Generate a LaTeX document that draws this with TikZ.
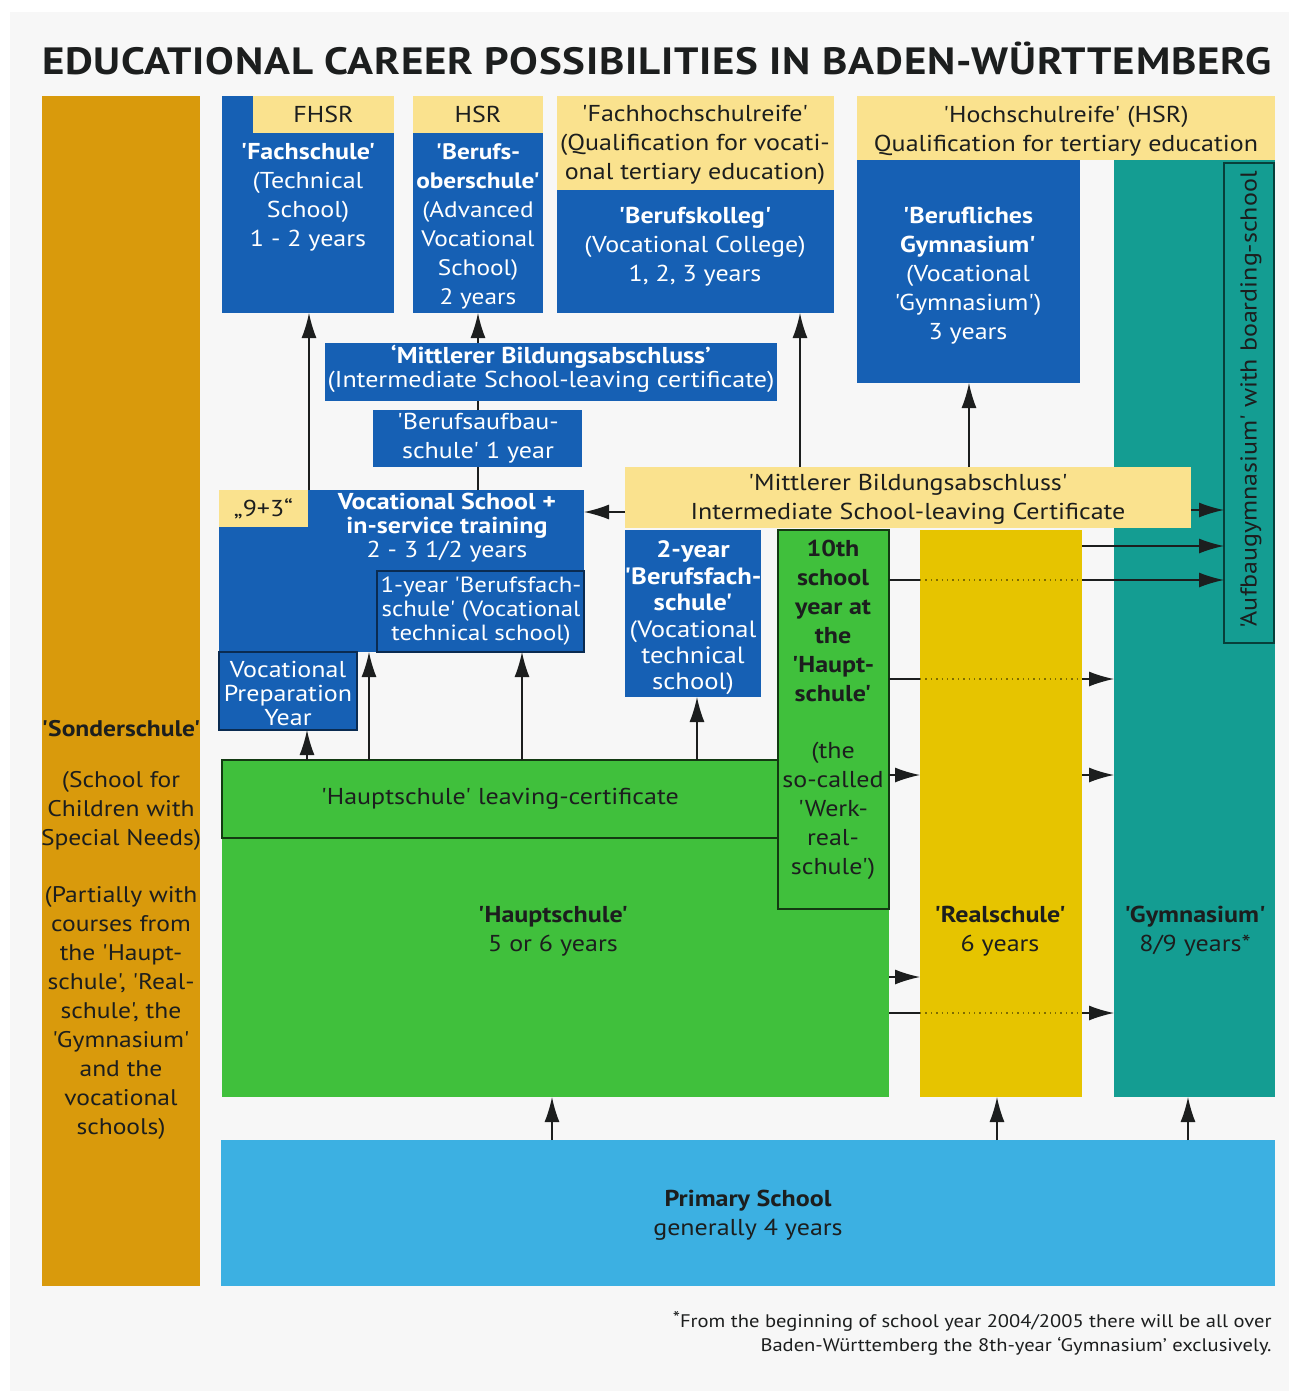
\documentclass[tikz,border=0pt]{standalone}
\usepackage{fontspec}
\setmainfont{PT Sans}[Ligatures=TeXOff, FakeStretch=1.13]
\usetikzlibrary{arrows.meta,backgrounds,positioning,fit}

\definecolor{panel}{RGB}{247,247,247}
\definecolor{sonder}{RGB}{217,154,12}
\definecolor{vblue}{RGB}{22,96,180}
\definecolor{pale}{RGB}{250,226,142}
\definecolor{hgreen}{RGB}{64,192,60}
\definecolor{rgold}{RGB}{230,196,0}
\definecolor{gteal}{RGB}{20,157,146}
\definecolor{pblue}{RGB}{60,176,226}
\definecolor{ink}{RGB}{28,30,30}

\tikzset{
  box/.style={inner sep=0pt, outer sep=0pt},
  bluebox/.style={box, fill=vblue},
  palebox/.style={box, fill=pale},
  wtxt/.style={text=white, align=center, inner sep=0pt, font=\fontsize{11.5}{14.5}\selectfont},
  ktxt/.style={text=ink, align=center, inner sep=0pt, font=\fontsize{11.5}{14.5}\selectfont},
  tight/.style={font=\fontsize{11.5}{12}\selectfont},
  arr/.style={draw=ink, line width=0.7pt, -{Latex[length=12.5pt,width=7.5pt]}},
  link/.style={draw=ink, line width=0.7pt},
  dots/.style={draw=rgold!55!black, line width=0.7pt, dotted},
}

\begin{document}
\begin{tikzpicture}[x=0.5pt,y=-0.5pt]
\useasboundingbox (0,0) rectangle (1291,1394);
\fill[white] (0,0) rectangle (1291,1394);
\fill[panel] (10,12) rectangle (1289,1391);

\node[text=ink, font=\fontsize{19}{22}\selectfont\bfseries\addfontfeature{LetterSpace=2}] (title) at (657,58)
  {EDUCATIONAL CAREER POSSIBILITIES IN BADEN-WÜRTTEMBERG};

% left column
\node[box, fill=sonder, fit={(42,96) (200,1286)}] (sonder) {};
\node[ktxt, font=\fontsize{11.3}{14.5}\selectfont] (sonder-t) at (121,930) {\textbf{'Sonderschule'}\\[11pt]
  (School for\\Children with\\Special Needs)\\[14pt]
  (Partially with\\courses from\\the 'Haupt-\\schule', 'Real-\\schule', the\\'Gymnasium'\\and the\\vocational\\schools)};

% top row
\node[bluebox, fit={(222,96) (394,313)}] (fs) {};
\node[palebox, fit={(253,96) (394,133)}] (fhsr) {};
\node[ktxt] at (fhsr) {FHSR};
\node[wtxt] (fs-t) at (308,197) {\textbf{'Fachschule'}\\(Technical\\School)\\1 - 2 years};

\node[bluebox, fit={(413,133) (543,313)}] (bos) {};
\node[palebox, fit={(413,96) (543,133)}] (hsr) {};
\node[ktxt] at (hsr) {HSR};
\node[wtxt, font=\fontsize{11.2}{14.5}\selectfont] (bos-t) at (478,226) {\textbf{'Berufs-}\\\textbf{oberschule'}\\(Advanced\\Vocational\\School)\\2 years};

\node[palebox, fit={(557,96) (834,190)}] (fhr) {};
\node[ktxt] (fhr-t) at (695,145) {'Fachhochschulreife'\\(Qualification for vocati-\\onal tertiary education)};
\node[bluebox, fit={(557,190) (834,313)}] (bk) {};
\node[wtxt] (bk-t) at (695,247) {\textbf{'Berufskolleg'}\\(Vocational College)\\1, 2, 3 years};

% Gymnasium column and HSR
\node[box, fill=gteal, fit={(1114,160) (1275,1097)}] (gym) {};
\node[ktxt] (gym-t) at (1195,931) {\textbf{'Gymnasium'}\\8/9 years*};
\node[palebox, fit={(857,96) (1275,160)}] (hsrb) {};
\node[ktxt] (hsrb-t) at (1066,131) {'Hochschulreife' (HSR)\\Qualification for tertiary education};
\node[bluebox, fit={(857,160) (1080,383)}] (bg) {};
\node[wtxt] (bg-t) at (968,276) {\textbf{'Berufliches}\\\textbf{Gymnasium'}\\(Vocational\\'Gymnasium')\\3 years};
\node[box, draw=gteal!40!black, line width=0.6pt, fit={(1224,163) (1274,643)}] (aufbau) {};
\node[ktxt, rotate=90] (aufbau-t) at (1251,400) {'Aufbaugymnasium' with boarding-school};

% middle
\node[bluebox, fit={(325,343) (777,401)}] (mbb) {};
\node[wtxt, tight] (mbb-t) at (551,369) {\textbf{‘Mittlerer Bildungsabschluss’}\\(Intermediate School-leaving certificate)};
\node[bluebox, fit={(373,410) (582,467)}] (bau) {};
\node[wtxt] (bau-t) at (478,438) {'Berufsaufbau-\\schule' 1 year};

\node[bluebox, fit={(219,490) (584,652)}] (voc) {};
\node[palebox, fit={(219,490) (308,527)}] (nine) {};
\node[ktxt] at (nine) {„9+3“};
\node[wtxt, tight] (voc-t) at (447,528) {\textbf{Vocational School +}\\\textbf{in-service training}\\2 - 3 1/2 years};
\node[bluebox, draw=vblue!45!black, line width=0.6pt, fit={(377,571) (584,652)}] (oneyr) {};
\node[wtxt, font=\fontsize{11}{12}\selectfont] (oneyr-t) at (481,611) {1-year 'Berufsfach-\\schule' (Vocational\\technical school)};
\node[bluebox, draw=vblue!45!black, line width=0.6pt, fit={(219,652) (357,730)}] (vprep) {};
\node[wtxt, tight] (vprep-t) at (288,693) {Vocational\\Preparation\\Year};

\node[bluebox, fit={(625,530) (761,697)}] (twoyr) {};
\node[wtxt, font=\fontsize{11.8}{13.2}\selectfont] (twoyr-t) at (693,618) {\textbf{2-year}\\\textbf{'Berufsfach-}\\\textbf{schule'}\\(Vocational\\technical\\school)};

% lower schools
\node[box, fill=hgreen, fit={(222,760) (889,1097)}] (haupt) {};
\node[ktxt] (haupt-t) at (553,931) {\textbf{'Hauptschule'}\\5 or 6 years};
\node[box, draw=hgreen!30!black, line width=0.6pt, fit={(222,760) (778,838)}] (hlc) {};
\node[ktxt] (hlc-t) at (500,799) {'Hauptschule' leaving-certificate};
\node[box, fill=hgreen, draw=hgreen!30!black, line width=0.6pt, fit={(778,530) (889,909)}] (tenth) {};
\node[ktxt] (tenth-t) at (833,710) {\textbf{10th}\\\textbf{school}\\\textbf{year at}\\\textbf{the}\\\textbf{'Haupt-}\\\textbf{schule'}\\[14pt]
  (the\\so-called\\'Werk-\\real-\\schule')};
\node[box, fill=rgold, fit={(920,530) (1082,1097)}] (real) {};
\node[ktxt] (real-t) at (1000,931) {\textbf{'Realschule'}\\6 years};

\node[palebox, fit={(625,467) (1191,528)}] (mba) {};
\node[ktxt] (mba-t) at (908,499) {'Mittlerer Bildungsabschluss'\\Intermediate School-leaving Certificate};

\node[box, fill=pblue, fit={(221,1140) (1275,1286)}] (primary) {};
\node[ktxt] (primary-t) at (748,1215) {\textbf{Primary School}\\generally 4 years};

\node[text=ink, align=right, anchor=east, inner sep=0pt, font=\fontsize{9.1}{12}\selectfont] (note) at (1272,1333)
  {\raisebox{0.35ex}{*}From the beginning of school year 2004/2005 there will be all over\\Baden-Württemberg the 8th-year ‘Gymnasium’ exclusively.};

% rows and columns of the connectors
\coordinate (rA) at (0,512);
\coordinate (rB) at (0,510);
\coordinate (rC) at (0,546);
\coordinate (rD) at (0,580);
\coordinate (rE) at (0,679);
\coordinate (rF) at (0,775);
\coordinate (rG) at (0,977);
\coordinate (rH) at (0,1013);
\coordinate (cA) at (309,0);
\coordinate (cB) at (478,0);
\coordinate (cC) at (800,0);
\coordinate (cD) at (969,0);
\coordinate (cE) at (307,0);
\coordinate (cF) at (369,0);
\coordinate (cG) at (522,0);
\coordinate (cH) at (697,0);
\coordinate (cI) at (552,0);
\coordinate (cJ) at (997,0);
\coordinate (cK) at (1188,0);

% upward connectors
\draw[arr] (voc.north -| cA) -- (fs.south -| cA);
\draw[link] (voc.north -| cB) -- (bau.south -| cB);
\draw[link] (bau.north -| cB) -- (mbb.south -| cB);
\draw[arr] (mbb.north -| cB) -- (bos.south -| cB);
\draw[arr] (mba.north -| cC) -- (bk.south -| cC);
\draw[arr] (mba.north -| cD) -- (bg.south -| cD);
\draw[arr] (hlc.north -| cE) -- (vprep.south -| cE);
\draw[arr] (hlc.north -| cF) -- (voc.south -| cF);
\draw[arr] (hlc.north -| cG) -- (oneyr.south -| cG);
\draw[arr] (hlc.north -| cH) -- (twoyr.south -| cH);
\draw[arr] (primary.north -| cI) -- (haupt.south -| cI);
\draw[arr] (primary.north -| cJ) -- (real.south -| cJ);
\draw[arr] (primary.north -| cK) -- (gym.south -| cK);

% sideways connectors
\draw[arr] (mba.west |- rA) -- (voc.east |- rA);
\draw[arr] (mba.east |- rB) -- (aufbau.west |- rB);
\draw[arr] (real.east |- rC) -- (aufbau.west |- rC);
\draw[link] (tenth.east |- rD) -- (real.west |- rD);
\draw[dots] (real.west |- rD) -- (real.east |- rD);
\draw[arr] (real.east |- rD) -- (aufbau.west |- rD);
\draw[link] (tenth.east |- rE) -- (real.west |- rE);
\draw[dots] (real.west |- rE) -- (real.east |- rE);
\draw[arr] (real.east |- rE) -- (gym.west |- rE);
\draw[arr] (tenth.east |- rF) -- (real.west |- rF);
\draw[arr] (real.east |- rF) -- (gym.west |- rF);
\draw[arr] (haupt.east |- rG) -- (real.west |- rG);
\draw[link] (haupt.east |- rH) -- (real.west |- rH);
\draw[dots] (real.west |- rH) -- (real.east |- rH);
\draw[arr] (real.east |- rH) -- (gym.west |- rH);
\end{tikzpicture}
\end{document}
